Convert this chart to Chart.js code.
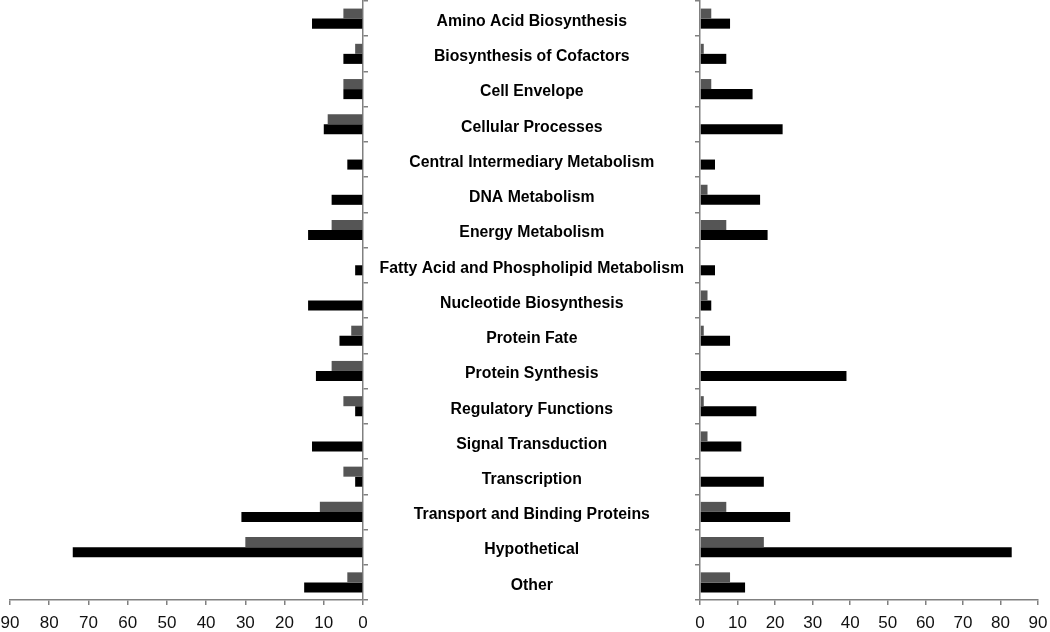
<!DOCTYPE html>
<html>
<head>
<meta charset="utf-8">
<script src="https://cdn.jsdelivr.net/npm/chart.js@4.4.0/dist/chart.umd.min.js"></script>
<style>
  html, body { margin: 0; padding: 0; background: #fff; }
  #wrap { position: relative; width: 1050px; height: 632px; overflow: hidden; }
  canvas { position: absolute; top: 0; }
</style>
</head>
<body>
<div id="wrap">
  <canvas id="left" width="700" height="632" style="left:0px"></canvas>
  <canvas id="right" width="360" height="632" style="left:690px"></canvas>
</div>
<script>
const categories = [
  "Amino Acid Biosynthesis",
  "Biosynthesis of Cofactors",
  "Cell Envelope",
  "Cellular Processes",
  "Central Intermediary Metabolism",
  "DNA Metabolism",
  "Energy Metabolism",
  "Fatty Acid and Phospholipid Metabolism",
  "Nucleotide Biosynthesis",
  "Protein Fate",
  "Protein Synthesis",
  "Regulatory Functions",
  "Signal Transduction",
  "Transcription",
  "Transport and Binding Proteins",
  "Hypothetical",
  "Other"
];
const leftGray  = [5, 2, 5, 9, 0, 0, 8, 0, 0, 3, 8, 5, 0, 5, 11, 30, 4];
const leftBlack = [13, 5, 5, 10, 4, 8, 14, 2, 14, 6, 12, 2, 13, 2, 31, 74, 15];
const rightGray  = [3, 1, 3, 0, 0, 2, 7, 0, 2, 1, 0, 1, 2, 0, 7, 17, 8];
const rightBlack = [8, 7, 14, 22, 4, 16, 18, 4, 3, 8, 39, 15, 11, 17, 24, 83, 12];
const axisMin = 0, axisMax = 90, axisStep = 10;

const GRAY = '#555555';
const BLACK = '#000000';
const AXIS = '#808080';

function datasets(g, b) {
  return [
    { data: g, backgroundColor: GRAY, borderWidth: 0, categoryPercentage: 0.57, barPercentage: 1.0 },
    { data: b, backgroundColor: BLACK, borderWidth: 0, categoryPercentage: 0.57, barPercentage: 1.0 }
  ];
}

const common = {
  indexAxis: 'y',
  responsive: false,
  animation: false,
  events: [],
  plugins: { legend: { display: false }, tooltip: { enabled: false } }
};

function xScale(reverse) {
  return {
    type: 'linear',
    min: axisMin, max: axisMax, reverse: reverse,
    ticks: { stepSize: axisStep, color: '#111', font: { family: 'Liberation Sans, Arial, sans-serif', size: 17 }, padding: 8, maxRotation: 0 },
    grid: { drawOnChartArea: false, drawTicks: true, tickLength: 5, color: AXIS, lineWidth: 1.5 },
    border: { display: true, color: AXIS, width: 1.5 },
    afterFit: s => { s.height = 32; s.paddingLeft = 0; s.paddingRight = 0; }
  };
}

function zeroPad(s) { s.paddingTop = 0; s.paddingBottom = 0; }

new Chart(document.getElementById('left'), {
  type: 'bar',
  data: { labels: categories, datasets: datasets(leftGray, leftBlack) },
  options: Object.assign({}, common, {
    layout: { padding: { left: 10, top: 1, right: 0, bottom: 0 } },
    scales: {
      x: xScale(true),
      y: {
        type: 'category', position: 'right',
        ticks: { autoSkip: false, crossAlign: 'center', padding: 11.5, labelOffset: 3, color: '#000',
                 font: { family: 'Liberation Sans, Arial, sans-serif', size: 15.8, weight: 'bold' } },
        grid: { offset: true, drawOnChartArea: false, drawTicks: true, tickLength: 5, color: AXIS, lineWidth: 1.5 },
        border: { display: true, color: AXIS, width: 1.5 },
        afterFit: s => { s.width = 337; zeroPad(s); }
      }
    }
  })
});

new Chart(document.getElementById('right'), {
  type: 'bar',
  data: { labels: categories, datasets: datasets(rightGray, rightBlack) },
  options: Object.assign({}, common, {
    layout: { padding: { left: 0, top: 1, right: 12, bottom: 0 } },
    scales: {
      x: xScale(false),
      y: {
        type: 'category', position: 'left',
        ticks: { display: false },
        grid: { offset: true, drawOnChartArea: false, drawTicks: true, tickLength: 5, color: AXIS, lineWidth: 1.5 },
        border: { display: true, color: AXIS, width: 1.5 },
        afterFit: s => { s.width = 10; zeroPad(s); }
      }
    }
  })
});
</script>
</body>
</html>
